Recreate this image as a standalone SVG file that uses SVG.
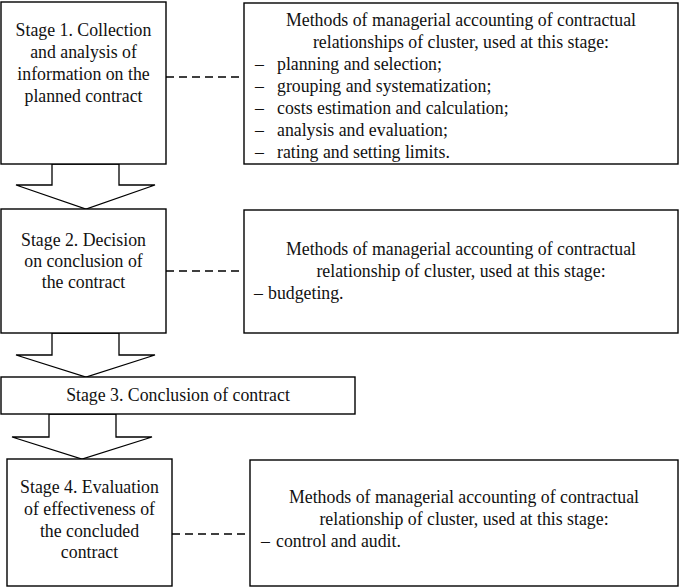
<svg xmlns="http://www.w3.org/2000/svg" width="685" height="588" viewBox="0 0 685 588">
<style>
.box{fill:#fff;stroke:#000;stroke-width:1.4}
.arr{fill:#fff;stroke:#000;stroke-width:1.3;stroke-linejoin:miter}
.dash{fill:none;stroke:#000;stroke-width:1.4;stroke-dasharray:8 5}
text{font-size:17.8px;fill:#111}
.c{text-anchor:middle}
</style>
<rect width="685" height="588" fill="#fff"/>
<g id="connectors">
<polygon class="arr" points="52,164 52,185 16,185 86,209 155,185 119,185 119,164"/>
<polygon class="arr" points="52,333 52,355 16,355 86,377 155,355 119,355 119,333"/>
<polygon class="arr" points="49,414 49,437 12,437 82,459 152,437 116,437 116,414"/>
<line class="dash" x1="166" y1="77" x2="244" y2="77"/>
<line class="dash" x1="166" y1="271" x2="244" y2="271"/>
<line class="dash" x1="172" y1="534" x2="250" y2="534"/>
</g>
<g font-family="'Liberation Serif', 'Times New Roman', 'DejaVu Serif', serif">
<g id="stage1">
<rect class="box" x="1" y="2" width="165" height="162"/>
<text class="c" x="83.5" y="36">Stage 1. Collection</text>
<text class="c" x="83.5" y="58">and analysis of</text>
<text class="c" x="83.5" y="80">information on the</text>
<text class="c" x="83.5" y="102">planned contract</text>
</g>
<g id="stage2">
<rect class="box" x="1" y="209" width="165" height="124"/>
<text class="c" x="83.5" y="246">Stage 2. Decision</text>
<text class="c" x="83.5" y="267">on conclusion of</text>
<text class="c" x="83.5" y="288">the contract</text>
</g>
<g id="stage3">
<rect class="box" x="1" y="377" width="354" height="37"/>
<text class="c" x="178" y="401">Stage 3. Conclusion of contract</text>
</g>
<g id="stage4">
<rect class="box" x="7" y="459" width="165" height="127"/>
<text class="c" x="89.5" y="493">Stage 4. Evaluation</text>
<text class="c" x="89.5" y="515">of effectiveness of</text>
<text class="c" x="89.5" y="537">the concluded</text>
<text class="c" x="89.5" y="558">contract</text>
</g>
<g id="methods1">
<rect class="box" x="244" y="3" width="434" height="161"/>
<text class="c" x="461" y="26">Methods of managerial accounting of contractual</text>
<text class="c" x="461" y="48">relationships of cluster, used at this stage:</text>
<text x="255" y="70">–</text><text x="277" y="70">planning and selection;</text>
<text x="255" y="92">–</text><text x="277" y="92">grouping and systematization;</text>
<text x="255" y="114">–</text><text x="277" y="114">costs estimation and calculation;</text>
<text x="255" y="136">–</text><text x="277" y="136">analysis and evaluation;</text>
<text x="255" y="158">–</text><text x="277" y="158">rating and setting limits.</text>
</g>
<g id="methods2">
<rect class="box" x="244" y="210" width="434" height="123"/>
<text class="c" x="461" y="255">Methods of managerial accounting of contractual</text>
<text class="c" x="461" y="277">relationship of cluster, used at this stage:</text>
<text x="254" y="299">–</text><text x="268" y="299">budgeting.</text>
</g>
<g id="methods4">
<rect class="box" x="250" y="460" width="428" height="126"/>
<text class="c" x="464" y="503">Methods of managerial accounting of contractual</text>
<text class="c" x="464" y="525">relationship of cluster, used at this stage:</text>
<text x="261" y="547">–</text><text x="276" y="547">control and audit.</text>
</g>
</g>
</svg>
